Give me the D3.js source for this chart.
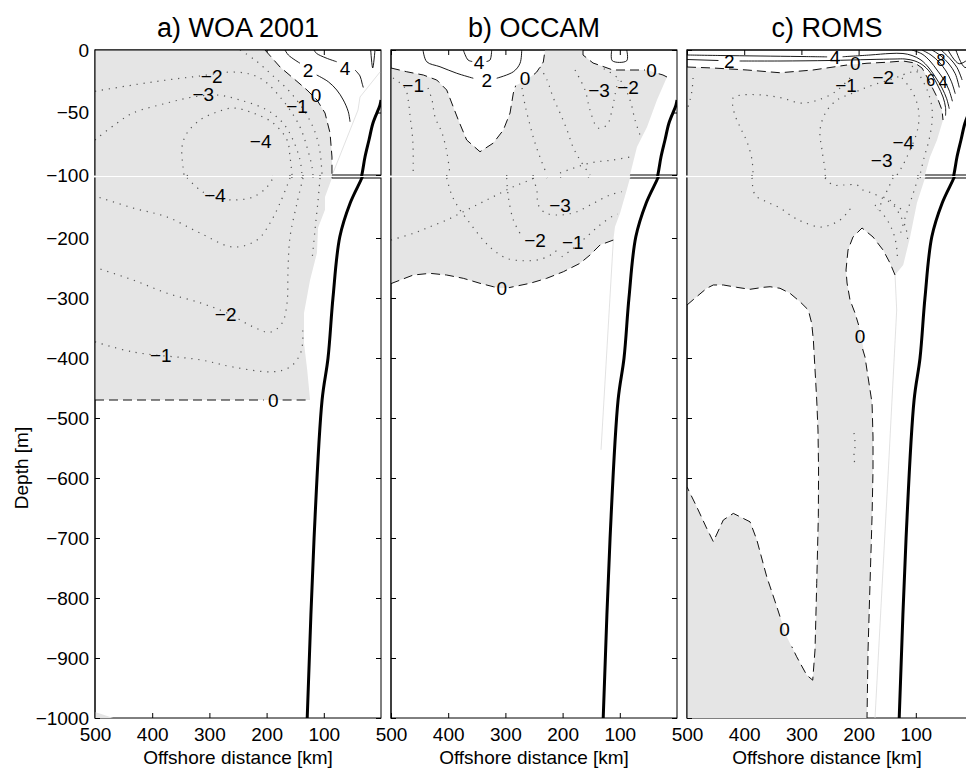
<!DOCTYPE html>
<html><head><meta charset="utf-8">
<script src="https://cdn.jsdelivr.net/npm/d3@7"></script>
<style>body{margin:0;background:#fff}</style>
</head><body>
<script>
// ---------------- data ----------------
const xTicks=[500,400,300,200,100];
const upperTicks=[0,-50,-100];
const lowerTicks=[-200,-300,-400,-500,-600,-700,-800,-900,-1000];
const titles=["a) WOA 2001","b) OCCAM","c) ROMS"];
const xTitle="Offshore distance [km]";
const yTitle="Depth [m]";
// shelf / slope line [km, depth]
const shelf=[[0,-40],[1.7,-44],[14,-58.4],[21,-72],[28,-85.6],[33.5,-100],[54,-142],[72,-198],[84,-300],[92.6,-400],[103,-470],[117,-700],[129,-1000]];

// ---- panel a (WOA 2001) ----
const aGray=[
 [[500,0],[202.8,0],[176.5,-13.6],[153.8,-22.4],[129.4,-32],[111.9,-40],[97.9,-50.4],[89.1,-66.4],[85.7,-85.6],[85.7,-100],[97.9,-131.7],[97.9,-153],[110,-183],[112,-225],[124,-270],[134.6,-325],[134.6,-375],[129,-420],[124,-470],[500,-470]],
 [[500,-990],[468,-1000],[500,-1000]]
];
const aZero=[
 [[202.8,0],[176.5,-13.6],[153.8,-22.4],[129.4,-32],[111.9,-40],[97.9,-50.4],[89.1,-66.4],[85.7,-85.6],[85.7,-100]],
 [[500,-470],[205,-470]],[[172,-470],[124,-470]]
];
const aPos=[
 [[167.8,0],[162,-4],[141.6,-10.6]],
 [[112.4,-20],[92.1,-25.4],[77.4,-32],[65.9,-40],[57.2,-49.4],[54.2,-57.4]],
 [[117,0],[113,-2.6],[96,-6.4],[77.4,-9.4]],
 [[45.4,-16],[36.7,-20.8],[33.2,-26.4],[31,-30]],
 [[18,0],[14.5,-14.4],[10.5,0]]
];
const aNeg=[
 [[246.5,0],[220.2,-8],[190.5,-20],[159,-33.6],[132.8,-49.6],[115.4,-65.6],[106.6,-81.6],[103.1,-100]],
 [[106.6,-100],[110,-136.7],[115.4,-186.7],[120.6,-236.7]],
 [[500,-373],[433.5,-390],[316.4,-403],[258.7,-415],[188.8,-423],[159,-415],[142,-395],[137,-375],[137,-350]],
 [[500,-33],[433.5,-28],[374,-24],[316.4,-20.8],[258.7,-17.6],[223.7,-20],[199.3,-26.4],[176.5,-37.6],[159,-48],[141.6,-61.6],[129.4,-77.6],[120.6,-93.6],[118.9,-100]],
 [[136.3,-100],[146.8,-141.7],[159,-198],[162.6,-253],[164.3,-308],[173,-342],[194,-357],[223.7,-348],[269,-325],[316.4,-308],[374,-292],[433.5,-270],[500,-249]],
 [[500,-72],[461.5,-58.4],[433.5,-50.4],[374,-42.4],[328.6,-37.6],[286.7,-36],[246.5,-40],[199.3,-48],[171.3,-58.4],[153.8,-72],[141.6,-88],[138.1,-100]],
 [[159,-100],[176.5,-141.7],[194,-175],[216.8,-203.4],[258.7,-215],[316.4,-191.7],[374,-165],[433.5,-150],[500,-130]],
 [[155.6,-100],[159,-85.6],[164.3,-72],[188.8,-58.4],[223.7,-50.4],[258.7,-46.4],[286.7,-49.6],[316.4,-56],[339.1,-66.4],[347.9,-77.6],[346.1,-93.6],[344.4,-100]],
 [[339,-100],[316.4,-120],[293.7,-131.7],[258.7,-136.7],[223.7,-131.7],[199.3,-115],[188.8,-100]]
];
const aLabels=[["−2",296,-20.8],["−3",310.6,-35.5],["−4",210.3,-73.3],["−1",146.8,-44.8],["0",113.6,-36],["2",127.6,-16],["4",62.9,-14.7],
 ["−4",290.2,-129.5],["−2",271.5,-326.7],["−1",385,-395],["0",188.3,-470]];
const aMask=[[[1.7,-17.6],[36.7,-37.6],[40.2,-48],[83.9,-98.4]]];

// ---- panel b (OCCAM) ----
const bGray=[[
 [500,-14.4],[472.5,-17.4],[443.5,-20],[420,-24],[402.6,-32],[393.8,-42.4],[382.3,-56],[367.7,-72],[344.4,-81.4],[321,-74.4],[303.6,-64],[291.9,-50.4],[286.1,-34.4],[280.2,-28],[262.7,-24],[245.2,-17.6],[233.7,-9.6],[230.7,0],[164.3,0],[164.3,-4],[146.8,-10.4],[111.9,-16],[76.9,-16],[52.4,-16],[24.5,-20],[17.5,-21.6],[35,-40],[52.4,-61.6],[70,-77.6],[82.2,-100],[87.9,-120],[99.6,-158.8],[108.4,-181.2],[111.3,-203.4],[134.6,-211.7],[152.1,-228.4],[169.6,-242.2],[198.7,-256.2],[227.8,-267.2],[257,-275.5],[286.1,-281.2],[306.4,-283.8],[321.1,-281.2],[344.4,-275.5],[373.6,-267.2],[402.6,-261.7],[431.8,-258.9],[461,-261.7],[500,-276]
]];
const bZero=[
 [[500,-14.4],[472.5,-17.4],[443.5,-20],[420,-24],[402.6,-32],[393.8,-42.4],[382.3,-56],[367.7,-72],[344.4,-81.4],[321,-74.4],[303.6,-64],[291.9,-50.4],[286.1,-34.4],[282,-28.5]],
 [[250,-19.5],[245.2,-17.6],[233.7,-9.6],[230.7,0]],
 [[164.3,0],[164.3,-4],[146.8,-10.4],[111.9,-16],[76.9,-16],[56,-16]],
 [[32,-19],[24.5,-20],[17.5,-21.6]],
 [[111.3,-203.4],[134.6,-211.7],[152.1,-228.4],[169.6,-242.2],[198.7,-256.2],[227.8,-267.2],[257,-275.5],[286.1,-281.2],[294,-282.8]],
 [[319,-281.6],[321.1,-281.2],[344.4,-275.5],[373.6,-267.2],[402.6,-261.7],[431.8,-258.9],[461,-261.7],[500,-276]]
];
const bPos=[
 [[444,0],[437.5,-9.4],[414.3,-13.4],[385.1,-18.6],[356.1,-22.6]],
 [[315.2,-22.6],[286.1,-17.4],[274.4,-10.6],[271.5,0]],
 [[373.6,0],[365.3,-8],[358,-9.2]],
 [[333,-9.2],[326.9,-8],[324,0]],
 [[114.1,0],[113.1,-8.6],[87.9,-8.6],[87.9,0]]
];
const bNeg=[
 [[496.4,-22.4],[475.5,-30.4],[470,-40],[466.5,-53.6],[463,-66.4],[461.3,-80],[461.3,-100]],
 [[435.3,-30.4],[428.3,-40],[423,-53.6],[410.8,-66.4],[402.1,-82.4],[396.8,-100]],
 [[270.9,-30.4],[265.7,-44],[257,-60],[248.2,-74.4],[237.7,-88],[227.2,-100]],
 [[239.5,-13.6],[227.2,-24],[216.8,-37.6],[204.5,-50.4],[192.3,-64],[181.8,-77.6],[169.6,-88],[152.1,-100]],
 [[178.3,-16],[160.8,-32],[152.1,-48],[138.1,-62.4],[122.4,-60],[113.6,-48],[108.4,-36],[103.1,-24]],
 [[128,-15],[99.6,-24],[82.2,-40],[73.4,-56],[64.7,-68]],
 [[204.5,-98.4],[152.1,-90.4],[111.9,-88],[82.2,-85.6]],
 [[500,-203.4],[461,-192.2],[431.8,-181.2],[402.6,-170],[373.6,-156.2],[344.4,-142.2],[315.2,-128.3],[286.1,-114.5],[257,-103.3],[250,-100]],
 [[402.6,-100],[393.8,-128.3],[379.3,-153.3],[361.8,-175.5],[341.4,-200.5],[321.1,-220],[297.7,-233.9],[268.6,-237.9],[239.5,-235.6],[216.3,-225.6],[204.5,-214.5]],
 [[251.7,-100],[245.2,-120],[242.4,-145],[230.7,-157.8],[204.5,-161.7],[175.3,-156.2],[146.3,-142.2],[117.1,-128.3],[96.7,-122.8]],
 [[201.5,-231.2],[181.3,-217.2],[157.9,-197.8],[134.6,-178.3],[111.3,-163],[104,-160]],
 [[297.7,-100],[294.9,-131.2],[286.1,-170],[274.4,-192.2]]
];
const bLabels=[["−1",461.3,-28],["4",346.1,-9.6],["2",332.4,-24],["0",265.7,-22.4],["−3",136.3,-32],["−2",85.7,-29.6],["0",44.3,-16],
 ["−3",204.5,-145],["−2",248.2,-203.4],["−1",182.3,-207.8],["0",306.4,-283.8]];
const bMask=[[[111.3,-203.4],[132.8,-553]]];

// ---- panel c (ROMS) ----
const cGray=[[
 [500,-13.6],[454.5,-14.4],[395,-16],[337.4,-18.2],[279.7,-16],[220.2,-12],[185.3,-10.6],[150.3,-9.8],[122.4,-8.8],[101.4,-10.4],[89.1,-14.4],[80.4,-21.6],[71.7,-29.6],[62.9,-37.6],[54.2,-48],[52.4,-56],
 [62.9,-72],[75.2,-85.6],[83.9,-100],[98,-141.7],[110,-198.3],[122,-245],[136.3,-261.7],
 [145.1,-241.7],[157.3,-220],[174.8,-198.3],[194,-183.3],[209.8,-198.3],[218.5,-220],[222,-253.3],[220.2,-275],[215,-303.3],[206.3,-325],[197.5,-353.3],[188.8,-398.3],[183.5,-431.7],[176.5,-475],[174.8,-531.7],[174.8,-586.7],[176.5,-665],[180,-775],[183.5,-886.7],[185.3,-1000],
 [500,-1000],[500,-615],
 [483,-648],[465.5,-684],[454,-706],[436.5,-670],[419,-659],[389.8,-673],[378,-703],[360.6,-764.5],[343,-814.5],[325.6,-864.5],[308.2,-898],[290.7,-928.5],[280.2,-937],[276.2,-886.7],[273.2,-775.6],[270.4,-664.6],[270,-586.7],[271,-520],[273.2,-470],[279.1,-370],[282,-342.2],[287.9,-320],[302.4,-306.2],[319.9,-292.2],[337.4,-283.8],[354.8,-281.2],[366.6,-282.2],[389.8,-285.5],[413,-282.2],[436.5,-278.3],[454,-278.3],[465.5,-283.8],[483,-297.8],[500,-311.7]
]];
const cZero=[
 [[500,-13.6],[454.5,-14.4],[395,-16],[337.4,-18.2],[279.7,-16],[220.2,-12]],
 [[194,-11],[185.3,-10.6],[150.3,-9.8],[122.4,-8.8],[101.4,-10.4],[89.1,-14.4],[80.4,-21.6],[71.7,-29.6],[62.9,-37.6],[54.2,-48],[52.4,-56]],
 [[136.3,-261.7],[145.1,-241.7],[157.3,-220],[174.8,-198.3],[194,-183.3],[209.8,-198.3],[218.5,-220],[222,-253.3],[220.2,-275],[215,-303.3],[206.3,-325],[200,-345]],
 [[193,-385],[188.8,-398.3],[183.5,-431.7],[176.5,-475],[174.8,-531.7],[174.8,-586.7],[176.5,-665],[180,-775],[183.5,-886.7],[185.3,-1000]],
 [[500,-311.7],[483,-297.8],[465.5,-283.8],[454,-278.3],[436.5,-278.3],[413,-282.2],[389.8,-285.5],[366.6,-282.2],[354.8,-281.2],[337.4,-283.8],[319.9,-292.2],[302.4,-306.2],[287.9,-320],[282,-342.2],[279.1,-370],[273.2,-470],[271,-520],[270,-586.7],[270.4,-664.6],[273.2,-775.6],[276.2,-886.7],[280.2,-937],[290.7,-928.5],[308.2,-898],[316.8,-881]],
 [[337.4,-831],[343,-814.5],[360.6,-764.5],[378,-703],[389.8,-673],[419,-659],[436.5,-670],[454,-706],[465.5,-684],[483,-648],[500,-615]]
];
const cPos=[
 [[500,-7.6],[445,-8.4]],
 [[408,-8.8],[337.4,-8.8],[250,-8.4],[180,-7.6],[136.3,-7.2],[118.9,-7.2],[101.4,-8.8],[85.7,-12.8],[71.7,-20],[61.2,-28.8],[52.4,-37.6],[48,-46],[48,-52.5]],
 [[500,-4],[442.2,-4.4],[372.3,-4.8],[302.4,-5.2],[255,-5.5]],
 [[228,-5.4],[180,-4],[145.1,-2.8],[122.4,-2.8],[106.6,-4.4],[90.9,-8],[76.9,-14.4],[64.7,-22.4],[54.2,-30.4],[46,-39],[41.5,-47]],
 [[106.6,0],[89.1,-3.2],[75.2,-8.8],[62.9,-16],[50.7,-24],[42,-32],[36,-41]],
 [[89.1,0],[73.4,-4],[59.4,-9.6],[47.2,-16.8],[38,-25],[31,-35]],
 [[71.7,0],[55.9,-4.8],[42,-11.2],[31,-19],[24,-30]],
 [[55.9,0],[40,-7],[28,-14],[19,-24]],
 [[43.7,0],[24,-11],[0,-4]],
 [[30,0],[14,-14],[0,-10]]
];
const cNeg=[
 [[215,-22.4],[241.2,-33.6],[276.2,-40.8],[302.4,-42.4],[333.9,-38.4],[368.8,-36],[403.8,-36],[419.5,-38.4],[417.8,-49.6],[407.3,-61.6],[395,-73.6],[386.3,-88],[384.6,-100]],
 [[386.3,-100],[381,-128.3],[360.1,-140],[337.4,-150],[314.6,-165],[297.2,-173.3],[267.4,-181.7],[250,-178.3],[232.5,-170],[220.2,-158.3],[209.8,-145]],
 [[96.1,-16],[118.9,-19.2],[136.3,-22.4],[180,-28.8],[209.8,-34.4],[237.7,-40],[257,-49.6],[267.4,-64],[264,-80],[257,-100]],
 [[258.7,-100],[244.7,-111.7],[227.2,-111.7],[202.8,-111.7],[192.3,-120],[176.5,-125],[159,-133.3],[136.3,-145],[118.9,-156.7]],
 [[106.6,-12.8],[96.1,-18.4],[85.7,-26.4],[76.9,-36],[71.7,-46.4],[71.7,-57.6],[76.9,-72],[85.7,-86.4],[92.6,-100]],
 [[96.1,-100],[106.6,-131.7],[117.1,-161.7],[127.6,-195]],
 [[124.1,-22.4],[110.1,-30.4],[99.6,-40],[94.4,-52],[97.9,-65.6],[110.1,-80],[122.4,-92],[132.8,-100]],
 [[139.8,-100],[153.8,-128.3],[166.1,-153.3]],
 [[171.3,-145],[150,-170],[138,-195],[133,-220],[132,-240]],
 [[145.1,-136.7],[127.6,-161.7],[117,-185],[114,-205]],
 [[208,-525],[206,-545],[208,-560],[206.3,-581]],
 [[489.4,-22.4],[491.2,-32],[494.7,-40],[500,-48]]
];
const cLabels=[["2",426,-8.8],["4",241.2,-5.9],["0",206,-10.8],["−1",222,-28.5],["−2",156.8,-21.8],["8",56,-8],["6",74,-24.5],["4",52,-26],["−4",121.8,-73.8],["−3",159.6,-88.5],
 ["0",197.5,-364.5],["0",329.3,-853]];
const cMask=[[[136.3,-261.7],[133.4,-320],[148,-586.7],[171.3,-1000]]];

// ---------------- drawing ----------------
const panels=[
 {gray:aGray,zero:aZero,pos:aPos,neg:aNeg,labels:aLabels,mask:aMask},
 {gray:bGray,zero:bZero,pos:bPos,neg:bNeg,labels:bLabels,mask:bMask},
 {gray:cGray,zero:cZero,pos:cPos,neg:cNeg,labels:cLabels,mask:cMask}
];
const GRAY="#e5e5e5";
const FONT="'Liberation Sans', Arial, Helvetica, sans-serif";
const W=966,H=770;
const svg=d3.select("body").append("svg").attr("width",W).attr("height",H)
  .style("font-family",FONT).style("display","block");
const defs=svg.append("defs");
const PX=[[95,381],[391,677],[687,973]];
const subs=[
 {key:"u",dom:[0,-100],rng:[50,175],ticks:upperTicks},
 {key:"l",dom:[-100,-1000],rng:[178,718],ticks:lowerTicks}
];
const fmt=d3.format("d");

function styleAxis(g){
  g.select(".domain").remove();
  g.attr("font-family",FONT).attr("font-size",19);
  g.selectAll("line").attr("stroke","#000");
  g.selectAll("text").attr("fill","#000");
}

panels.forEach((P,pi)=>{
  const [x0,x1]=PX[pi];
  const x=d3.scaleLinear().domain([500,0]).range([x0,x1]);
  subs.forEach(s=>{
    const y=d3.scaleLinear().domain(s.dom).range(s.rng);
    const [y0,y1]=s.rng;
    const g=svg.append("g");
    // frame
    g.append("rect").attr("x",x0).attr("y",y0).attr("width",x1-x0).attr("height",y1-y0)
      .attr("fill","none").attr("stroke","#000").attr("stroke-width",1);
    // ticks (inward)
    const left=d3.axisLeft(y).tickValues(s.ticks).tickSize(-5).tickSizeOuter(0).tickPadding(6).tickFormat(fmt);
    if(pi>0) left.tickFormat("");
    g.append("g").attr("transform",`translate(${x0},0)`).call(left).call(styleAxis);
    g.append("g").attr("transform",`translate(${x1},0)`)
      .call(d3.axisRight(y).tickValues(s.ticks).tickSize(-5).tickSizeOuter(0).tickFormat("")).call(styleAxis);
    const bottom=d3.axisBottom(x).tickValues(xTicks).tickSize(-5).tickSizeOuter(0).tickPadding(10).tickFormat(fmt);
    if(s.key==="u") bottom.tickFormat("");
    g.append("g").attr("transform",`translate(0,${y1})`).call(bottom).call(styleAxis);
    g.append("g").attr("transform",`translate(0,${y0})`)
      .call(d3.axisTop(x).tickValues(xTicks).tickSize(-5).tickSizeOuter(0).tickFormat("")).call(styleAxis);

    // clip
    const cid=`clip${pi}${s.key}`;
    const cy0=s.key==="u"?y0:y0-1;
    defs.append("clipPath").attr("id",cid).append("rect")
      .attr("x",x0).attr("y",cy0).attr("width",x1-x0).attr("height",y1+1-cy0);
    const inner=g.append("g").attr("clip-path",`url(#${cid})`);
    const lin=d3.line().x(d=>x(d[0])).y(d=>y(d[1]));
    const smooth=d3.line().x(d=>x(d[0])).y(d=>y(d[1])).curve(d3.curveCatmullRom.alpha(0.5));

    P.gray.forEach(poly=>inner.append("path").attr("d",lin(poly)+"Z").attr("fill",GRAY).attr("stroke","none"));
    P.mask.forEach(l=>inner.append("path").attr("d",lin(l)).attr("fill","none").attr("stroke","#dadada").attr("stroke-width",0.8));
    P.neg.forEach(l=>inner.append("path").attr("d",smooth(l)).attr("fill","none")
      .attr("stroke","#555").attr("stroke-width",1.2).attr("stroke-dasharray","1.2,5.8"));
    P.zero.forEach(l=>inner.append("path").attr("d",lin(l)).attr("fill","none")
      .attr("stroke","#111").attr("stroke-width",1).attr("stroke-dasharray","9,5"));
    P.pos.forEach(l=>inner.append("path").attr("d",smooth(l)).attr("fill","none")
      .attr("stroke","#000").attr("stroke-width",0.9));

    const labs=P.labels.filter(d=> s.key==="u" ? d[2]>=-100 : d[2]<-100);
    inner.selectAll("text.cl").data(labs).enter().append("text").attr("class","cl")
      .attr("x",d=>x(d[1])).attr("y",d=>y(d[2])).attr("dy","0.35em")
      .attr("text-anchor","middle").attr("font-size",d=>d[0].length===1&&pi===2&&d[1]<80?16:19)
      .attr("fill","#000").text(d=>d[0]);

    // shelf line
    inner.append("path").attr("d",smooth(shelf)).attr("fill","none").attr("stroke","#000").attr("stroke-width",3);

    // redraw left (and top) edges over fills
    g.append("line").attr("x1",x0).attr("x2",x0).attr("y1",y0-0.5).attr("y2",y1+0.5).attr("stroke","#000");
    if(s.key==="u") g.append("line").attr("x1",x0).attr("x2",x1).attr("y1",y0).attr("y2",y0).attr("stroke","#000");
  });
  // title & x label
  svg.append("text").attr("x",(x0+x1)/2 - (pi===2?3:0)).attr("y",37).attr("text-anchor","middle")
    .attr("font-size",27).attr("fill","#000").text(titles[pi]);
  svg.append("text").attr("x",(x0+x1)/2 - (pi===2?3:0)).attr("y",764).attr("text-anchor","middle")
    .attr("font-size",19).attr("fill","#000").text(xTitle);
});
svg.append("text").attr("transform","translate(28,468) rotate(-90)").attr("text-anchor","middle")
  .attr("font-size",19).attr("fill","#000").text(yTitle);
</script>
</body></html>
